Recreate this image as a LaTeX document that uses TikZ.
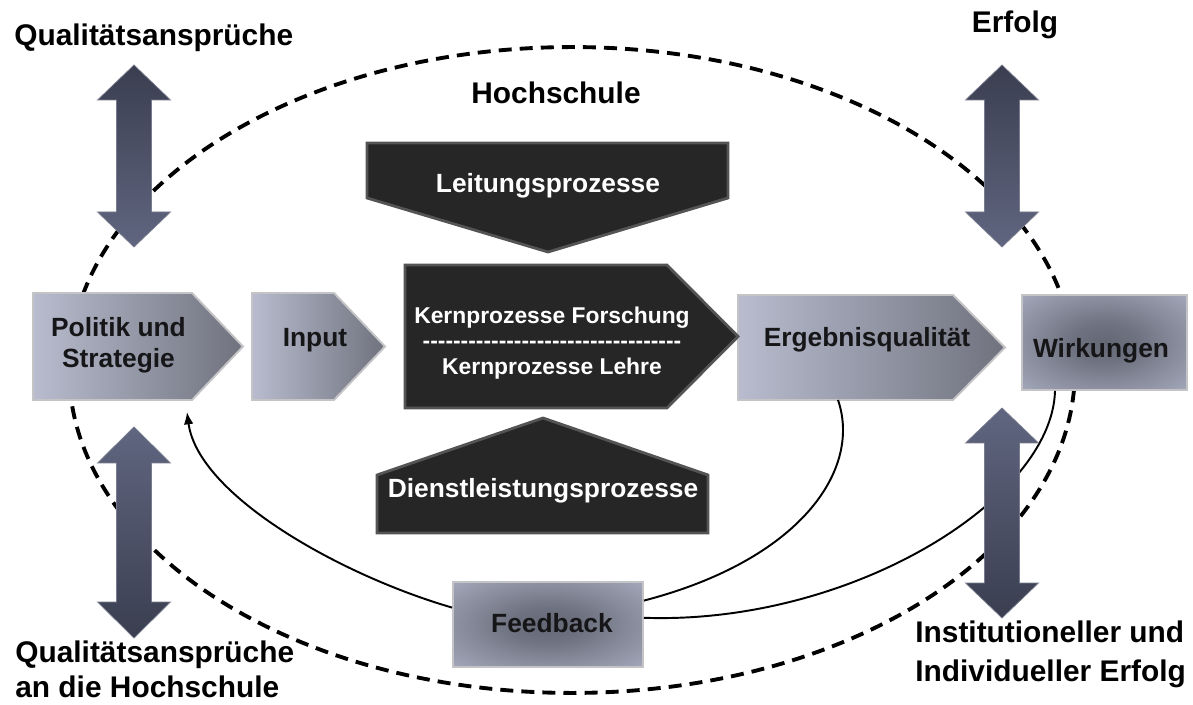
\documentclass[tikz,border=0pt]{standalone}
\usepackage{fontspec}
\setmainfont{Liberation Sans}
\newfontfamily\rulefont{Liberation Sans}[Ligatures=TeXOff]
\usetikzlibrary{arrows.meta,calc}

\definecolor{boxL}{RGB}{184,188,206}
\definecolor{boxR}{RGB}{112,114,126}
\definecolor{boxEdge}{RGB}{196,196,198}
\definecolor{radIn}{RGB}{100,103,116}
\definecolor{radOut}{RGB}{172,177,196}
\definecolor{darkFill}{RGB}{38,38,38}
\definecolor{darkEdge}{RGB}{84,84,84}
\definecolor{arrDark}{RGB}{58,62,80}
\definecolor{arrLight}{RGB}{96,102,128}
\definecolor{arrEdge}{RGB}{120,124,140}
\definecolor{labeltext}{RGB}{22,22,24}

% soft dark spot in the middle of a light box
\pgfdeclareradialshading{softspot}{\pgfpointorigin}{%
  color(0bp)=(radIn); color(10bp)=(radIn!85!radOut); color(40bp)=(radOut); color(50bp)=(radOut)}

\tikzset{
  lbl/.style={font=\fontsize{15}{17.6}\selectfont\bfseries, text=labeltext, align=center, inner sep=0pt},
  dlbl/.style={lbl, text=white},
  outer/.style={font=\fontsize{17}{20}\selectfont\bfseries, text=black, inner sep=0pt},
  lightbox/.style={left color=boxL, right color=boxR, draw=boxEdge, line width=1.1pt},
  radbox/.style={shading=softspot, draw=boxEdge, line width=1.1pt, inner sep=0pt},
  darkbox/.style={fill=darkFill, draw=darkEdge, line width=1.6pt},
  upshade/.style={top color=arrDark, bottom color=arrLight, draw=arrEdge, line width=0.4pt},
  downshade/.style={top color=arrLight, bottom color=arrDark, draw=arrEdge, line width=0.4pt},
  hull/.style={line width=2.2pt, dash pattern=on 7.4pt off 4.6pt},
  link/.style={line width=1.1pt},
}

% vertical double-headed arrow: centre x, top tip, top head base, bottom head base, bottom tip, style
\newcommand\twoheaded[6]{%
  \path[#6] (#1,#2) -- (#1+36.5,#3) -- (#1+17.5,#3) -- (#1+17.5,#4) -- (#1+36.5,#4)
    -- (#1,#5) -- (#1-36.5,#4) -- (#1-17.5,#4) -- (#1-17.5,#3) -- (#1-36.5,#3) -- cycle;}

\begin{document}
\begin{tikzpicture}[x=0.02cm, y=-0.02cm]
\useasboundingbox (0,0) rectangle (1193,705);
\fill[white] (0,0) rectangle (1193,705);

% the university as a dashed ellipse
\draw[hull] (572,370) ellipse [x radius=10.06cm, y radius=6.46cm];

% box outlines
\path[lightbox] (33,293) -- (192,293) -- (243,346.5) -- (192,400) -- (33,400) -- cycle;
\path[lightbox] (252,293) -- (334,293) -- (385,346.5) -- (334,400) -- (252,400) -- cycle;
\path[lightbox] (738,295) -- (953,295) -- (1005,347.5) -- (953,400) -- (738,400) -- cycle;
\path[darkbox] (405,265) -- (667,265) -- (738,336.5) -- (667,408) -- (405,408) -- cycle;
\path[darkbox] (367,143) -- (728,143) -- (728,198) -- (548,252) -- (367,198) -- cycle;
\path[darkbox] (377,533) -- (377,475) -- (543,418) -- (708,475) -- (708,533) -- cycle;

% labels of the process chain
\node[lbl] (pol) at (118.5,345.6) {Politik und\\Strategie};
\node[lbl, anchor=base] (inp) at (315,347) {Input};
\node[dlbl, font=\fontsize{13}{14.7}\selectfont\bfseries] (kern) at (552,343)
  {Kernprozesse Forschung\\{\rulefont ----------------------------------}\\Kernprozesse Lehre};
\node[dlbl, anchor=base] (leit) at (548,193) {Leitungsprozesse};
\node[dlbl, anchor=base] (dienst) at (543,498) {Dienstleistungsprozesse};
\node[lbl, anchor=base] (erg) at (867,347) {Ergebnisqualität};

\node[radbox, minimum width=3.3cm, minimum height=1.9cm] (wir) at (1104.5,342.5) {};
\node[lbl, anchor=base] (wirt) at (1101,358) {Wirkungen};
\node[radbox, minimum width=3.8cm, minimum height=1.7cm] (fb) at (548,624.5) {};
\node[lbl, anchor=base] (fbt) at (552,632) {Feedback};

% loose ends of the feedback loops
\coordinate (polb) at (187,412);
\coordinate (ergb) at (838,400);
\coordinate (wirb) at ($(wir.south)+(-49.5,0)$);

% feedback loops
\draw[link] (ergb) .. controls (862,470) and (800,560) .. (fb.14);
\draw[link] (wirb) .. controls (1052,500) and (850,625) .. (fb.4);
\draw[link, -{Latex[length=7pt,width=5.5pt]}] (fb.170) .. controls (340,575) and (198,495) .. (polb);

% exchange with the environment
\twoheaded{134}{65}{100}{212}{247}{upshade}
\twoheaded{1002}{65}{100}{212}{247}{upshade}
\twoheaded{134}{427}{463}{602}{638}{downshade}
\twoheaded{1002}{408}{443}{583}{618}{downshade}

% outer labels
\node[outer, anchor=base west] (qa) at (14,46) {Qualitätsansprüche};
\node[outer, anchor=base] (erf) at (1015,33) {Erfolg};
\node[outer, anchor=base] (hs) at (556,104) {Hochschule};
\node[outer, anchor=west, align=left, font=\fontsize{17}{19.8}\selectfont\bfseries] (qah) at (15,669.5)
  {Qualitätsansprüche\\an die Hochschule};
\node[outer, anchor=west, align=left, font=\fontsize{17}{22.1}\selectfont\bfseries] (ie) at (915,654.5)
  {Institutioneller und\\Individueller Erfolg};
\end{tikzpicture}
\end{document}
